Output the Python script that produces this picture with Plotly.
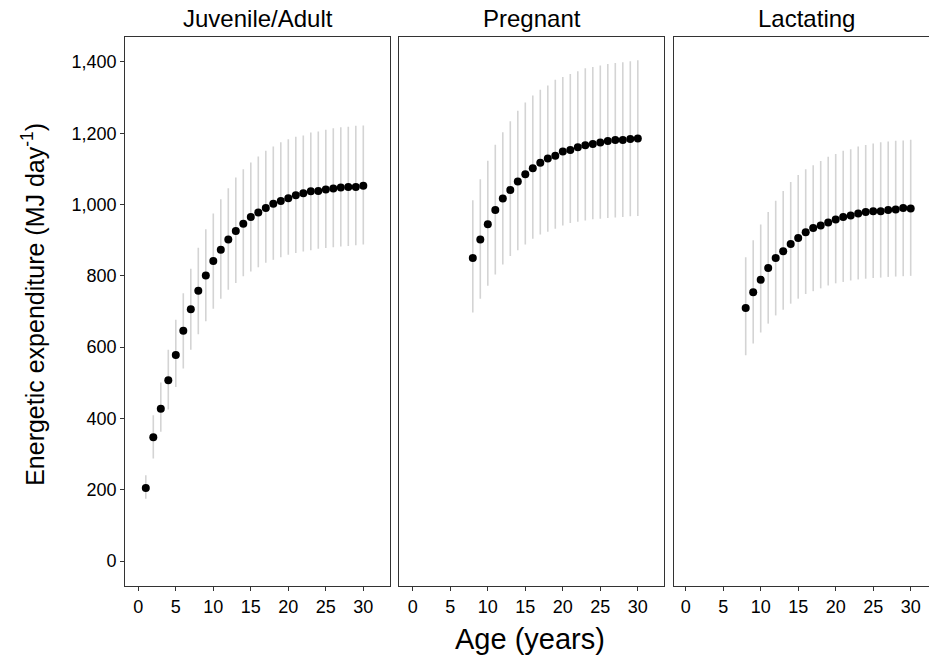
import plotly.graph_objects as go

# ---- data ----
panel_titles = ["Juvenile/Adult", "Pregnant", "Lactating"]

juv_age = list(range(1, 31))
juv_mean = [205, 347, 427, 507, 578, 646, 706, 758, 801, 842, 873, 902, 926, 946, 965,
            978, 990, 1002, 1010, 1018, 1026, 1032, 1037, 1038, 1042, 1045, 1048, 1049, 1049, 1053]
juv_lo = [175, 288, 363, 425, 488, 540, 593, 636, 673, 708, 736, 761, 780, 799, 812,
          824, 837, 845, 852, 859, 864, 868, 872, 876, 878, 880, 882, 884, 886, 888]
juv_hi = [241, 409, 501, 593, 677, 751, 820, 879, 931, 975, 1015, 1046, 1076, 1099, 1118,
          1135, 1151, 1163, 1175, 1183, 1190, 1194, 1202, 1205, 1210, 1214, 1217, 1218, 1221, 1222]

preg_age = list(range(8, 31))
preg_mean = [850, 902, 945, 985, 1017, 1041, 1065, 1085, 1102, 1117, 1129, 1137, 1149,
             1153, 1161, 1166, 1170, 1174, 1178, 1181, 1181, 1184, 1185]
preg_lo = [697, 736, 772, 804, 832, 856, 872, 888, 904, 916, 924, 932, 941,
           948, 952, 955, 959, 960, 962, 964, 965, 967, 968]
preg_hi = [1012, 1071, 1123, 1168, 1203, 1234, 1263, 1286, 1306, 1322, 1334, 1350, 1358,
           1366, 1374, 1382, 1386, 1390, 1394, 1397, 1399, 1402, 1405]

lact_age = list(range(8, 31))
lact_mean = [710, 754, 789, 822, 850, 869, 889, 906, 922, 934, 941, 950, 958,
             965, 969, 975, 979, 981, 981, 985, 986, 990, 989]
lact_lo = [577, 610, 641, 666, 689, 705, 722, 736, 749, 757, 765, 773, 779,
           783, 787, 790, 792, 794, 795, 797, 798, 799, 800]
lact_hi = [852, 900, 944, 979, 1011, 1038, 1063, 1083, 1099, 1110, 1122, 1134, 1142,
           1151, 1155, 1163, 1167, 1171, 1175, 1177, 1179, 1180, 1182]

y_ticks = [0, 200, 400, 600, 800, 1000, 1200, 1400]
x_ticks = [0, 5, 10, 15, 20, 25, 30]

# ---- figure ----
W, H = 929, 658
ML, MR, MT, MB = 125, 0, 37, 72
PW = W - ML - MR
FONT = "Liberation Sans, Arial, sans-serif"
BORDER = "#333333"
BAR = "#d4d4d4"
TICK_SIZE = 18

fig = go.Figure()
series = [(juv_age, juv_mean, juv_lo, juv_hi),
          (preg_age, preg_mean, preg_lo, preg_hi),
          (lact_age, lact_mean, lact_lo, lact_hi)]
for i, (ages, m, lo, hi) in enumerate(series):
    sfx = "" if i == 0 else str(i + 1)
    fig.add_trace(go.Scatter(
        x=ages, y=m, mode="markers",
        marker=dict(color="black", size=8),
        error_y=dict(type="data", symmetric=False,
                     array=[h - v for h, v in zip(hi, m)],
                     arrayminus=[v - l for v, l in zip(m, lo)],
                     color=BAR, thickness=1.6, width=0),
        xaxis="x" + sfx, yaxis="y" + sfx, showlegend=False, hoverinfo="skip"))

# panel pixel extents
panels_px = [(125.3, 390.0), (399.3, 664.3), (673.7, 929.0)]
px_per_year = 7.5
x0_px = [138.3, 412.8, 685.7]

layout = dict(
    width=W, height=H, margin=dict(l=ML, r=MR, t=MT, b=MB),
    paper_bgcolor="white", plot_bgcolor="white",
    font=dict(family=FONT, color="black", size=TICK_SIZE),
    showlegend=False,
)
for i, (a, b) in enumerate(panels_px):
    sfx = "" if i == 0 else str(i + 1)
    d0 = (a - ML) / PW
    d1 = min((b - ML) / PW, 1.0)
    lo_x = -(x0_px[i] - a) / px_per_year
    hi_x = (b - x0_px[i]) / px_per_year
    layout["xaxis" + sfx] = dict(
        domain=[max(d0, 0), d1], range=[lo_x, hi_x],
        tickvals=x_ticks, ticks="outside", ticklen=4, tickwidth=1, tickcolor=BORDER,
        showline=True, linecolor=BORDER, linewidth=1.2, mirror=True,
        showgrid=False, zeroline=False,
        tickfont=dict(size=TICK_SIZE, color="black", family=FONT),
        anchor="y" + sfx, fixedrange=True,
    )
    ydict = dict(
        range=[-70, 1470], tickvals=y_ticks,
        showline=True, linecolor=BORDER, linewidth=1.2, mirror=(i < 2),
        showgrid=False, zeroline=False,
        anchor="x" + sfx, fixedrange=True,
    )
    if i == 0:
        ydict.update(ticks="outside", ticklen=4, tickwidth=1, tickcolor=BORDER,
                     tickformat=",d", tickfont=dict(size=TICK_SIZE, color="black", family=FONT))
    else:
        ydict.update(ticks="", showticklabels=False, matches="y")
    layout["yaxis" + sfx] = ydict

fig.update_layout(**layout)

ann = []
for i, (a, b) in enumerate(panels_px):
    if i < 2:
        cx = (a + b) / 2
    else:
        cx = (a + a + 265) / 2
    ann.append(dict(text=panel_titles[i], xref="paper", yref="paper",
                    x=(cx - ML) / PW, y=1, xanchor="center", yanchor="middle",
                    yshift=19, showarrow=False,
                    font=dict(size=24, color="black", family=FONT)))
ann.append(dict(text="Age (years)", xref="paper", yref="paper",
                x=(530 - ML) / PW, y=0, xanchor="center", yanchor="middle",
                yshift=-53, showarrow=False,
                font=dict(size=29, color="black", family=FONT)))
ann.append(dict(text="Energetic expenditure (MJ day<sup>-1</sup>)", xref="paper", yref="paper",
                x=0, y=(586 - 305) / (586 - 37.3), xanchor="center", yanchor="middle",
                xshift=-92, textangle=-90, showarrow=False,
                font=dict(size=25, color="black", family=FONT)))
fig.update_layout(annotations=ann)

fig.write_html("out.html")
